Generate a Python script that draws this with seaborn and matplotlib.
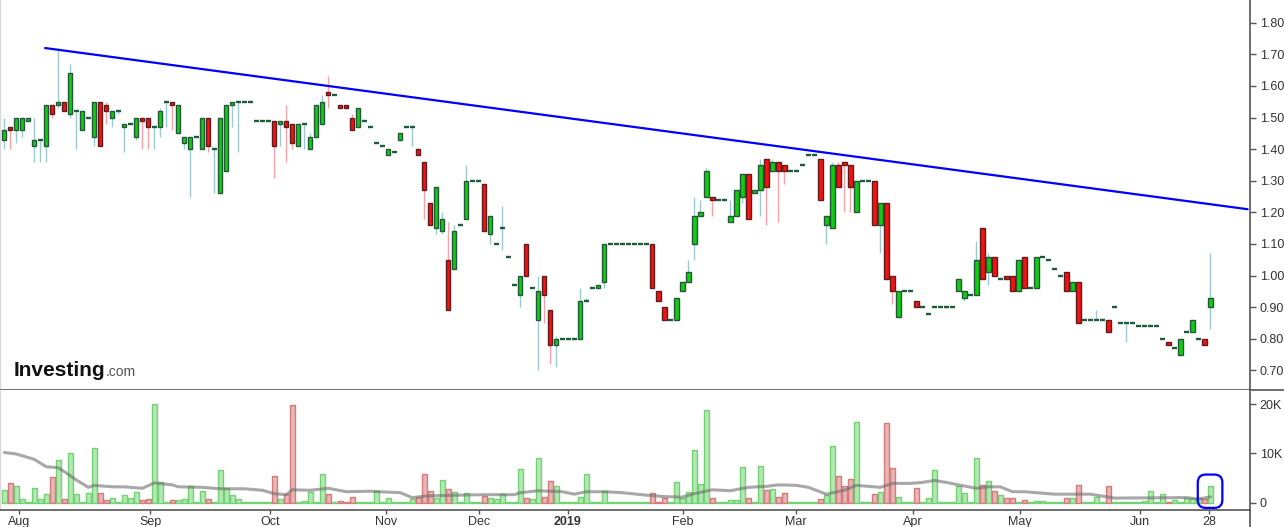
import numpy as np
import matplotlib
matplotlib.use("Agg")
import matplotlib.pyplot as plt
import seaborn as sns
from matplotlib.patches import FancyBboxPatch
from matplotlib.lines import Line2D
from matplotlib.transforms import IdentityTransform

# ---------------- data ----------------
opens = [1.43,1.47,1.46,1.46,1.49,1.41,1.43,1.41,1.54,1.54,
         1.55,1.51,1.52,1.46,1.50,1.44,1.55,1.54,1.50,1.52,
         1.47,1.48,1.44,1.50,1.50,1.47,1.47,1.55,1.55,1.45,
         1.42,1.40,1.44,1.40,1.50,1.40,1.26,1.33,1.54,1.55,
         1.55,1.55,1.49,1.49,1.49,1.49,1.48,1.49,1.48,1.41,
         1.48,1.40,1.44,1.48,1.58,1.57,1.54,1.54,1.50,1.47,
         1.49,1.47,1.42,1.41,1.38,1.39,1.43,1.47,1.47,1.40,
         1.36,1.23,1.15,1.14,1.05,1.02,1.16,1.18,1.30,1.30,
         1.29,1.13,1.10,1.15,1.06,0.97,0.94,1.10,0.96,0.86,
         1.00,0.89,0.78,0.80,0.80,0.80,0.80,0.92,0.96,0.96,
         0.98,1.10,1.10,1.10,1.10,1.10,1.10,1.10,1.10,0.95,
         0.90,0.86,0.86,0.95,0.98,1.10,1.19,1.25,1.25,1.24,
         1.24,1.17,1.19,1.25,1.32,1.26,1.27,1.37,1.33,1.36,
         1.35,1.33,1.33,1.35,1.38,1.38,1.37,1.16,1.15,1.35,
         1.36,1.35,1.20,1.30,1.30,1.30,1.16,1.23,1.00,0.87,
         0.95,0.95,0.92,0.90,0.88,0.90,0.90,0.90,0.90,0.95,
         0.93,0.94,0.94,1.15,1.01,1.06,0.99,1.00,1.00,0.95,
         1.06,0.96,0.96,1.06,1.05,1.02,1.00,1.01,0.95,0.98,
         0.86,0.86,0.86,0.86,0.86,0.90,0.85,0.85,0.85,0.84,
         0.84,0.84,0.84,0.80,0.79,0.77,0.75,0.82,0.82,0.80,
         0.80,0.90]
highs = [1.50,1.47,1.50,1.50,1.50,1.50,1.43,1.54,1.54,1.72,
         1.55,1.67,1.52,1.52,1.50,1.55,1.55,1.55,1.52,1.52,
         1.48,1.48,1.50,1.50,1.50,1.47,1.53,1.55,1.55,1.54,
         1.44,1.44,1.44,1.50,1.50,1.40,1.50,1.54,1.55,1.55,
         1.55,1.55,1.49,1.49,1.49,1.49,1.49,1.54,1.48,1.48,
         1.48,1.45,1.54,1.57,1.63,1.57,1.54,1.54,1.51,1.53,
         1.49,1.47,1.42,1.41,1.40,1.39,1.45,1.47,1.47,1.40,
         1.36,1.23,1.28,1.20,1.17,1.16,1.16,1.35,1.30,1.30,
         1.29,1.19,1.10,1.22,1.06,0.97,1.00,1.10,0.96,1.00,
         1.00,0.89,0.81,0.80,0.80,0.80,0.96,0.93,0.96,0.97,
         1.10,1.10,1.10,1.10,1.10,1.10,1.10,1.10,1.10,0.95,
         0.90,0.86,0.93,0.98,1.05,1.25,1.24,1.34,1.25,1.24,
         1.24,1.24,1.27,1.32,1.32,1.27,1.37,1.37,1.37,1.36,
         1.35,1.33,1.33,1.35,1.38,1.38,1.37,1.19,1.36,1.36,
         1.36,1.35,1.30,1.30,1.30,1.30,1.23,1.23,1.00,0.95,
         0.95,0.95,0.92,0.90,0.88,0.90,0.90,0.90,0.90,0.99,
         0.95,0.94,1.11,1.15,1.07,1.06,0.99,1.00,1.00,1.05,
         1.06,0.96,1.06,1.06,1.05,1.02,1.00,1.01,0.98,0.98,
         0.86,0.86,0.89,0.86,0.86,0.90,0.85,0.85,0.85,0.84,
         0.84,0.84,0.84,0.80,0.79,0.77,0.80,0.82,0.86,0.80,
         0.80,1.07]
lows = [1.40,1.40,1.42,1.44,1.49,1.36,1.36,1.36,1.50,1.53,
        1.52,1.50,1.40,1.46,1.50,1.41,1.41,1.48,1.47,1.51,
        1.39,1.48,1.43,1.40,1.40,1.40,1.44,1.47,1.46,1.45,
        1.40,1.25,1.44,1.40,1.39,1.26,1.26,1.33,1.47,1.39,
        1.55,1.55,1.49,1.49,1.49,1.31,1.41,1.36,1.40,1.41,
        1.40,1.40,1.44,1.48,1.53,1.57,1.53,1.53,1.46,1.47,
        1.49,1.47,1.42,1.41,1.38,1.39,1.43,1.47,1.41,1.38,
        1.18,1.16,1.13,1.13,0.89,1.02,1.16,1.18,1.30,1.30,
        1.14,1.10,1.10,1.08,1.06,0.97,0.90,1.00,0.96,0.70,
        0.85,0.72,0.71,0.80,0.80,0.80,0.80,0.92,0.96,0.96,
        0.96,1.10,1.10,1.10,1.10,1.10,1.10,1.10,0.96,0.92,
        0.86,0.86,0.86,0.95,0.98,1.05,1.19,1.25,1.19,1.24,
        1.24,1.17,1.19,1.23,1.18,1.26,1.19,1.16,1.33,1.17,
        1.29,1.33,1.33,1.35,1.38,1.38,1.24,1.10,1.15,1.28,
        1.20,1.20,1.20,1.30,1.30,1.16,1.07,0.99,0.91,0.87,
        0.95,0.95,0.90,0.90,0.88,0.90,0.90,0.90,0.90,0.95,
        0.92,0.94,0.94,0.99,0.97,1.00,0.99,0.99,0.95,0.95,
        0.96,0.96,0.96,1.06,1.05,1.02,1.00,0.95,0.95,0.85,
        0.86,0.86,0.86,0.86,0.82,0.90,0.85,0.79,0.85,0.84,
        0.84,0.84,0.84,0.80,0.78,0.77,0.75,0.82,0.82,0.80,
        0.78,0.83]
closes = [1.46,1.46,1.50,1.50,1.50,1.43,1.43,1.54,1.51,1.55,
          1.52,1.64,1.52,1.52,1.50,1.55,1.41,1.52,1.52,1.52,
          1.48,1.48,1.50,1.49,1.47,1.47,1.52,1.55,1.54,1.54,
          1.44,1.44,1.44,1.50,1.41,1.40,1.50,1.54,1.55,1.55,
          1.55,1.55,1.49,1.49,1.49,1.41,1.49,1.47,1.42,1.48,
          1.48,1.44,1.54,1.55,1.57,1.57,1.53,1.53,1.46,1.53,
          1.49,1.47,1.42,1.41,1.40,1.39,1.45,1.47,1.47,1.38,
          1.27,1.16,1.28,1.18,0.89,1.14,1.16,1.30,1.30,1.30,
          1.14,1.19,1.10,1.15,1.06,0.97,1.00,1.00,0.96,0.95,
          0.94,0.78,0.80,0.80,0.80,0.80,0.92,0.92,0.96,0.97,
          1.10,1.10,1.10,1.10,1.10,1.10,1.10,1.10,0.96,0.92,
          0.86,0.86,0.93,0.98,1.01,1.19,1.20,1.33,1.24,1.24,
          1.24,1.19,1.27,1.32,1.18,1.27,1.35,1.28,1.36,1.33,
          1.33,1.33,1.33,1.35,1.38,1.38,1.24,1.19,1.35,1.28,
          1.35,1.28,1.30,1.30,1.30,1.16,1.23,0.99,0.95,0.95,
          0.95,0.95,0.90,0.90,0.88,0.90,0.90,0.90,0.90,0.99,
          0.95,0.94,1.05,0.99,1.06,1.00,0.99,0.99,0.95,1.05,
          0.96,0.96,1.06,1.06,1.05,1.02,1.00,0.95,0.98,0.85,
          0.86,0.86,0.86,0.86,0.82,0.90,0.85,0.85,0.85,0.84,
          0.84,0.84,0.84,0.80,0.78,0.77,0.80,0.82,0.86,0.80,
          0.78,0.93]
volume_k = [2.6,4.0,3.4,0.75,0.05,2.9,0.75,1.8,5.2,8.6,
            0.75,10.1,1.8,0.1,2.0,11.2,2.0,0.5,1.0,0.05,
            1.6,1.0,2.2,0.5,0.75,20.0,4.2,0.05,0.5,0.5,
            0.75,3.4,0.1,2.4,0.75,0.1,6.7,3.0,1.6,0.75,
            0.05,0.05,0.05,0.05,0.05,5.4,0.75,1.8,19.9,0.05,
            0.3,2.2,0.05,5.9,1.8,0.05,0.3,0.15,1.2,0.15,
            0.05,0.05,2.4,0.05,0.95,0.05,0.15,0.05,0.75,1.2,
            5.9,2.4,0.95,4.6,2.8,2.2,0.05,2.0,0.05,0.05,
            1.4,0.95,0.75,1.8,0.15,0.05,6.9,0.95,0.75,9.1,
            1.2,4.4,3.4,0.05,0.05,0.05,1.2,5.9,0.05,0.05,
            2.4,0.05,0.05,0.05,0.05,0.05,0.05,0.05,2.0,0.05,
            0.95,0.05,4.2,0.95,2.2,10.7,3.8,18.9,0.95,0.05,
            0.05,0.5,0.5,7.3,0.95,0.15,7.5,2.6,2.8,1.2,
            2.0,0.05,0.05,0.15,0.05,0.05,0.75,1.6,11.6,5.4,
            3.4,4.8,16.5,0.05,0.05,1.8,2.2,16.3,7.1,1.2,
            0.05,0.05,3.0,0.05,0.95,6.7,0.05,0.05,0.05,3.4,
            2.0,0.05,9.1,3.6,4.4,2.4,1.6,0.95,0.95,0.15,
            0.5,0.05,0.3,0.3,0.05,0.05,0.05,0.95,0.95,3.6,
            0.05,0.05,1.2,0.05,3.4,0.05,0.15,0.15,0.05,0.05,
            0.3,2.4,0.05,1.8,0.15,0.5,0.15,0.95,0.95,0.95,
            0.75,3.4]
# volume moving-average line, read at these bar indices
ma_idx = [0, 2, 5, 7, 9, 10, 12, 14, 15, 18, 20, 23, 25, 28, 29, 33, 36, 40,
          43, 45, 47, 48, 51, 54, 57, 61, 66, 68, 70, 72, 76, 80, 85, 86, 89,
          93, 95, 97, 100, 103, 107, 110, 113, 115, 118, 121, 124, 127, 129,
          132, 134, 137, 140, 142, 146, 148, 151, 153, 155, 157, 159, 162,
          164, 166, 168, 170, 175, 178, 181, 185, 191, 197, 199, 201]
ma_k = [10.2, 9.9, 8.8, 7.3, 7.1, 6.3, 4.6, 3.1, 3.5, 3.2, 3.2, 2.9, 4.0, 3.6,
        3.2, 3.1, 2.8, 2.8, 2.5, 1.8, 1.6, 2.6, 2.5, 2.9, 2.2, 2.3, 2.0, 1.0,
        1.3, 1.4, 1.5, 1.6, 1.6, 2.0, 2.4, 2.2, 1.7, 2.2, 2.2, 2.0, 1.5, 1.2,
        1.1, 1.8, 2.6, 2.4, 3.1, 3.3, 3.6, 3.5, 3.1, 1.7, 2.5, 3.5, 3.1, 3.9,
        3.9, 4.1, 4.5, 4.1, 3.6, 2.9, 3.2, 3.2, 2.2, 2.2, 1.7, 1.7, 1.7, 0.9,
        0.95, 1.0, 0.7, 1.15]
# resistance trend line (bar index, price)
trend_idx = [6.8, 207.2]
trend_price = [1.72, 1.21]
# x-axis month labels (bar index where each label sits)
tick_pos = [2.45, 24.3, 44.3, 63.6, 79.1, 93.9, 113.1, 131.9, 151.4, 169.3, 189.3, 200.8]
tick_labels = ["Aug", "Sep", "Oct", "Nov", "Dec", "2019", "Feb", "Mar", "Apr", "May", "Jun", "28"]
price_ticks = [0.70, 0.80, 0.90, 1.00, 1.10, 1.20, 1.30, 1.40, 1.50, 1.60, 1.70, 1.80]
vol_ticks = [0, 10000, 20000]
vol_tick_labels = ["0", "10K", "20K"]

# ---------------- style ----------------
sns.set_theme(style="white")
plt.rcParams['font.family'] = ['Liberation Sans', 'DejaVu Sans']

G_BODY, G_EDGE, G_WICK = "#12cc12", "#24573a", "#9dcad1"
R_BODY, R_EDGE, R_WICK = "#f21212", "#5e1d1d", "#f4a3ab"
DOJI = "#1f5a3a"
GV_FILL, GV_EDGE = "#b3e8b3", "#72d172"
RV_FILL, RV_EDGE = "#e8b4b4", "#d27b7b"
AX_COL, TXT_COL = "#555555", "#333333"

o = np.array(opens); h = np.array(highs); l = np.array(lows); c = np.array(closes)
vol = np.array(volume_k) * 1000.0
idx = np.arange(len(o))
up = c > o
down = c < o
flat = c == o

fig = plt.figure(figsize=(12.84, 5.27), dpi=100)
fig.patch.set_facecolor("white")
ax = fig.add_axes([0.0, 0.26, 0.9735, 0.74])
axv = fig.add_axes([0.0, 0.03226, 0.9735, 0.26 - 0.03226])

# ---------------- price panel ----------------
wick_up = up | flat
ax.vlines(idx[wick_up], l[wick_up], h[wick_up], color=G_WICK, lw=1.0, zorder=1)
ax.vlines(idx[down], l[down], h[down], color=R_WICK, lw=1.0, zorder=1)
ax.bar(idx[up], (c - o)[up], bottom=o[up], width=0.72, color=G_BODY,
       edgecolor=G_EDGE, linewidth=1.0, zorder=2)
ax.bar(idx[down], (o - c)[down], bottom=c[down], width=0.72, color=R_BODY,
       edgecolor=R_EDGE, linewidth=1.0, zorder=2)
ax.hlines(c[flat], idx[flat] - 0.4, idx[flat] + 0.4, color=DOJI, lw=1.7, zorder=2)

sns.lineplot(x=trend_idx, y=trend_price, ax=ax, color="#0000ff", lw=1.6,
             legend=False, zorder=3)

xlim = (-0.717, 207.6)
ax.set_xlim(*xlim)
ax.set_ylim(0.638, 1.872)
ax.yaxis.tick_right()
ax.set_yticks(price_ticks)
ax.set_yticklabels([f"{v:.2f}" for v in price_ticks])
ax.tick_params(axis="y", direction="out", length=4, width=1, color=AX_COL,
               labelcolor=TXT_COL, labelsize=9, pad=3, right=True, left=False)
ax.tick_params(axis="x", bottom=False, labelbottom=False)
ax.set_xlabel(""); ax.set_ylabel("")

# ---------------- volume panel ----------------
vup = c >= o
axv.bar(idx[vup], vol[vup], width=0.8, color=GV_FILL, edgecolor=GV_EDGE,
        linewidth=1.0, zorder=2)
axv.bar(idx[~vup], vol[~vup], width=0.8, color=RV_FILL, edgecolor=RV_EDGE,
        linewidth=1.0, zorder=2)
sns.lineplot(x=ma_idx, y=np.array(ma_k) * 1000.0, ax=axv, color="#6e6e6e",
             lw=2.2, alpha=0.6, legend=False, zorder=3)
axv.set_xlim(*xlim)
axv.set_ylim(-1530, 22960)
axv.yaxis.tick_right()
axv.set_yticks(vol_ticks)
axv.set_yticklabels(vol_tick_labels)
axv.tick_params(axis="y", direction="out", length=4, width=1, color=AX_COL,
                labelcolor=TXT_COL, labelsize=9, pad=3, right=True, left=False)
axv.set_xticks(tick_pos)
axv.set_xticklabels(tick_labels)
axv.tick_params(axis="x", direction="out", length=3, width=1, color=AX_COL,
                labelcolor=TXT_COL, labelsize=9, pad=1, bottom=True)
for t in axv.get_xticklabels():
    if t.get_text() == "2019":
        t.set_fontweight("bold")
axv.set_xlabel(""); axv.set_ylabel("")

for a in (ax, axv):
    a.set_facecolor("white")
    a.spines["top"].set_visible(False)
    a.spines["left"].set_color("#d9d9d9")
    a.spines["left"].set_linewidth(1.0)
    a.spines["right"].set_color(AX_COL)
    a.spines["right"].set_linewidth(1.2)
    a.spines["bottom"].set_color(AX_COL)
    a.spines["bottom"].set_linewidth(1.2)
    a.grid(False)

# extensions of the axis frame lines
fig.add_artist(Line2D([0.9735, 1.0], [0.26, 0.26], transform=fig.transFigure,
                      color=AX_COL, lw=1.2))
fig.add_artist(Line2D([0.9735, 0.9735], [0.0, 0.03226], transform=fig.transFigure,
                      color=AX_COL, lw=1.2))

# highlight around the last volume bar
fig.canvas.draw()
last = idx[-1]
p0 = axv.transData.transform((last - 2.1, -1100))
p1 = axv.transData.transform((last + 2.0, 5700))
box = FancyBboxPatch((p0[0], p0[1]), p1[0] - p0[0], p1[1] - p0[1],
                     boxstyle="round,pad=0,rounding_size=8",
                     transform=IdentityTransform(), fill=False,
                     edgecolor="#0000ff", lw=1.6, zorder=5)
fig.add_artist(box)

# Investing.com logo
t1 = fig.text(14 / 1284, 1 - 376 / 527, "Investing", fontsize=15, fontweight="bold",
              color="#111111", va="baseline", ha="left")
fig.canvas.draw()
bb = t1.get_window_extent()
fig.text((bb.x1 + 0.5) / 1284, 1 - 376 / 527, ".com", fontsize=10, color="#555555",
         va="baseline", ha="left")

fig.savefig("out.png", dpi=100, facecolor="white")
